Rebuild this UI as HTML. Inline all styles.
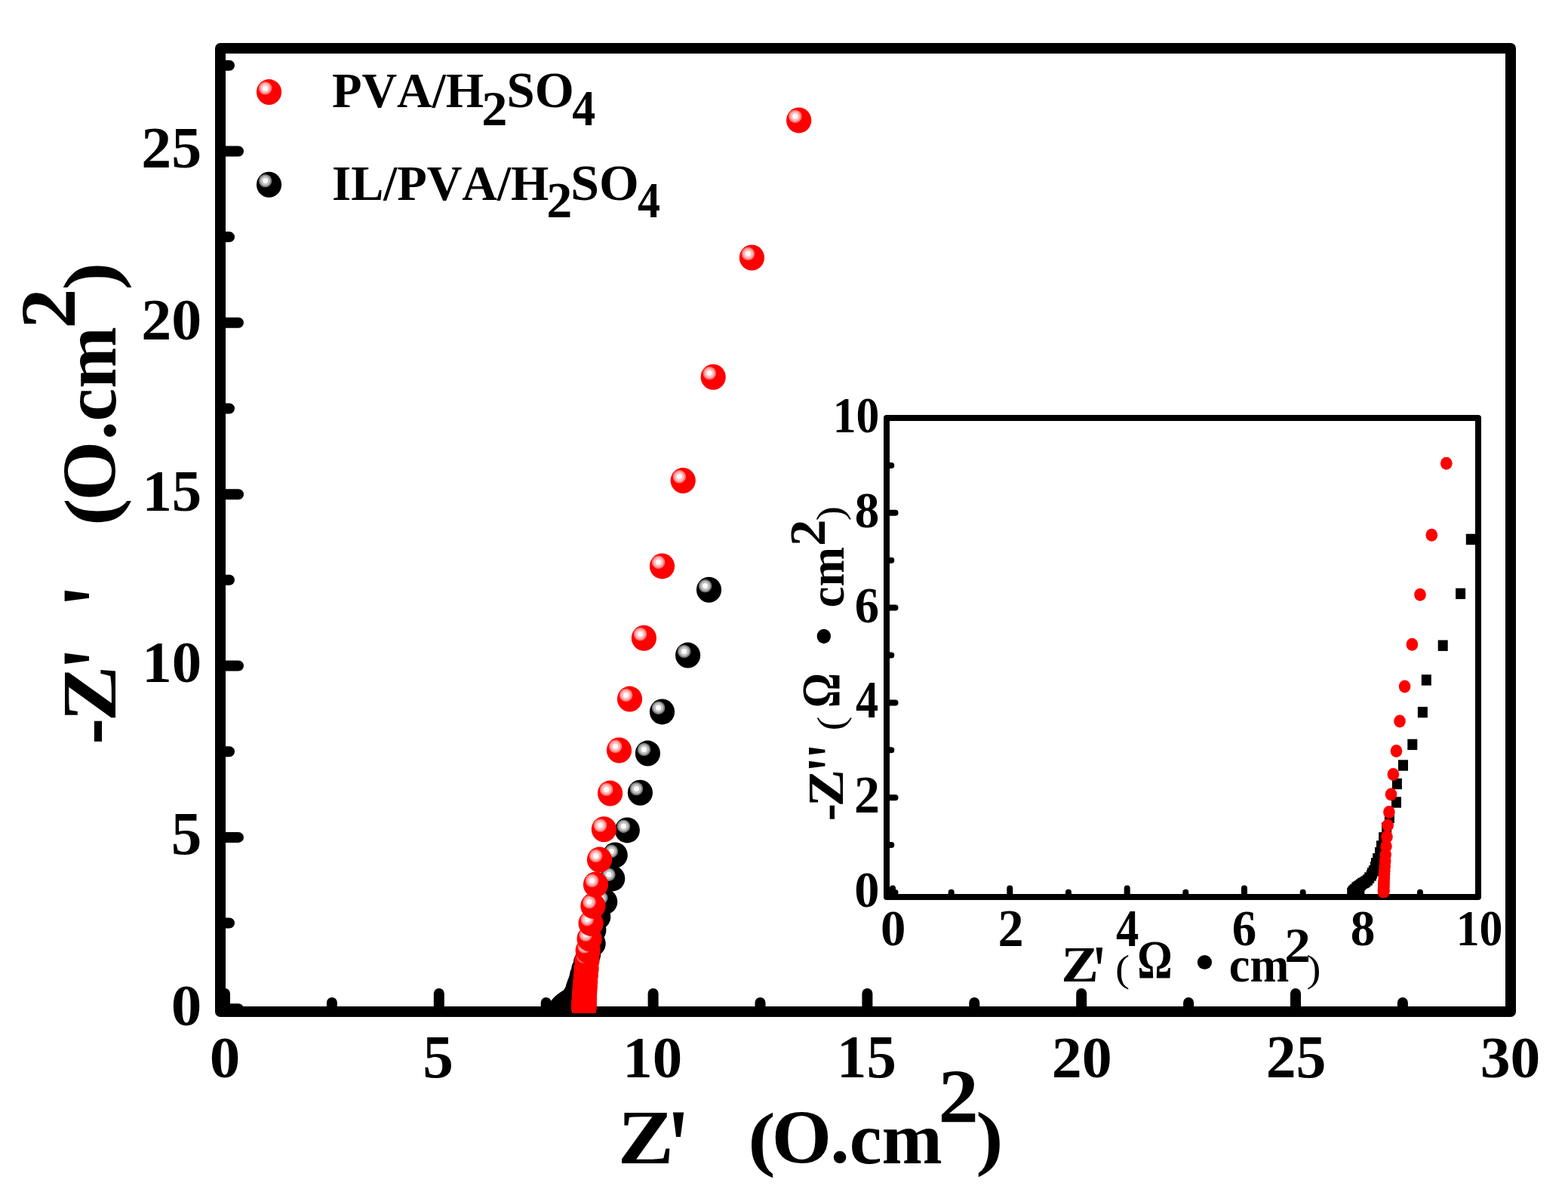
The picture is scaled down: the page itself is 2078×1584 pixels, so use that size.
<!DOCTYPE html>
<html lang="en"><head><meta charset="utf-8"><title>Nyquist plot</title>
<style>html,body{margin:0;padding:0;background:#fff;}body{width:2078px;height:1584px;overflow:hidden;}svg{display:block;}text{font-family:"Liberation Serif",serif;font-weight:bold;fill:#000;font-kerning:none;font-variant-ligatures:none;white-space:pre;}</style></head><body>
<svg width="2078" height="1584" viewBox="0 0 2078 1584">
<rect x="0" y="0" width="2078" height="1584" fill="#fff"/>
<g id="main-axes" stroke="#000" stroke-width="14" fill="none" stroke-linecap="round" stroke-linejoin="round">
<rect x="292" y="64" width="1710" height="1277"/>
<path d="M298.0 1341V1317M439.9 1341V1329M581.8 1341V1317M723.7 1341V1329M865.6 1341V1317M1007.5 1341V1329M1149.4 1341V1317M1291.3 1341V1329M1433.2 1341V1317M1575.1 1341V1329M1717.0 1341V1317M1858.9 1341V1329M292 1337.2H316M292 1223.5H304M292 1109.9H316M292 996.2H304M292 882.5H316M292 768.8H304M292 655.2H316M292 541.5H304M292 427.8H316M292 314.1H304M292 200.5H316M292 86.8H304"/>
</g>
<defs><clipPath id="cm"><rect x="285" y="57" width="1724" height="1286"/></clipPath><clipPath id="ci"><rect x="1171" y="550" width="792" height="640.3"/></clipPath></defs>
<g id="main-data" clip-path="url(#cm)">
<ellipse cx="743.1" cy="1337.9" rx="16.6" ry="17" fill="#000000"/><circle cx="738.2" cy="1332.7" r="8.7" fill="#808080"/><circle cx="738.2" cy="1332.7" r="6.6" fill="#c0c0c0"/><circle cx="738.2" cy="1332.7" r="3.6" fill="#ffffff"/>
<ellipse cx="743.9" cy="1336.7" rx="16.6" ry="17" fill="#000000"/><circle cx="739.0" cy="1331.5" r="8.7" fill="#808080"/><circle cx="739.0" cy="1331.5" r="6.6" fill="#c0c0c0"/><circle cx="739.0" cy="1331.5" r="3.6" fill="#ffffff"/>
<ellipse cx="744.6" cy="1335.7" rx="16.6" ry="17" fill="#000000"/><circle cx="739.7" cy="1330.5" r="8.7" fill="#808080"/><circle cx="739.7" cy="1330.5" r="6.6" fill="#c0c0c0"/><circle cx="739.7" cy="1330.5" r="3.6" fill="#ffffff"/>
<ellipse cx="745.3" cy="1335.4" rx="16.6" ry="17" fill="#000000"/><circle cx="740.4" cy="1330.2" r="8.7" fill="#808080"/><circle cx="740.4" cy="1330.2" r="6.6" fill="#c0c0c0"/><circle cx="740.4" cy="1330.2" r="3.6" fill="#ffffff"/>
<ellipse cx="746.1" cy="1334.3" rx="16.6" ry="17" fill="#000000"/><circle cx="741.2" cy="1329.1" r="8.7" fill="#808080"/><circle cx="741.2" cy="1329.1" r="6.6" fill="#c0c0c0"/><circle cx="741.2" cy="1329.1" r="3.6" fill="#ffffff"/>
<ellipse cx="747.6" cy="1332.6" rx="16.6" ry="17" fill="#000000"/><circle cx="742.7" cy="1327.4" r="8.7" fill="#808080"/><circle cx="742.7" cy="1327.4" r="6.6" fill="#c0c0c0"/><circle cx="742.7" cy="1327.4" r="3.6" fill="#ffffff"/>
<ellipse cx="749.0" cy="1331.7" rx="16.6" ry="17" fill="#000000"/><circle cx="744.1" cy="1326.5" r="8.7" fill="#808080"/><circle cx="744.1" cy="1326.5" r="6.6" fill="#c0c0c0"/><circle cx="744.1" cy="1326.5" r="3.6" fill="#ffffff"/>
<ellipse cx="750.5" cy="1330.7" rx="16.6" ry="17" fill="#000000"/><circle cx="745.6" cy="1325.5" r="8.7" fill="#808080"/><circle cx="745.6" cy="1325.5" r="6.6" fill="#c0c0c0"/><circle cx="745.6" cy="1325.5" r="3.6" fill="#ffffff"/>
<ellipse cx="751.8" cy="1329.7" rx="16.6" ry="17" fill="#000000"/><circle cx="746.9" cy="1324.5" r="8.7" fill="#808080"/><circle cx="746.9" cy="1324.5" r="6.6" fill="#c0c0c0"/><circle cx="746.9" cy="1324.5" r="3.6" fill="#ffffff"/>
<ellipse cx="753.3" cy="1328.6" rx="16.6" ry="17" fill="#000000"/><circle cx="748.4" cy="1323.4" r="8.7" fill="#808080"/><circle cx="748.4" cy="1323.4" r="6.6" fill="#c0c0c0"/><circle cx="748.4" cy="1323.4" r="3.6" fill="#ffffff"/>
<ellipse cx="755.0" cy="1327.8" rx="16.6" ry="17" fill="#000000"/><circle cx="750.1" cy="1322.6" r="8.7" fill="#808080"/><circle cx="750.1" cy="1322.6" r="6.6" fill="#c0c0c0"/><circle cx="750.1" cy="1322.6" r="3.6" fill="#ffffff"/>
<ellipse cx="756.4" cy="1326.7" rx="16.6" ry="17" fill="#000000"/><circle cx="751.5" cy="1321.5" r="8.7" fill="#808080"/><circle cx="751.5" cy="1321.5" r="6.6" fill="#c0c0c0"/><circle cx="751.5" cy="1321.5" r="3.6" fill="#ffffff"/>
<ellipse cx="758.3" cy="1325.3" rx="16.6" ry="17" fill="#000000"/><circle cx="753.4" cy="1320.1" r="8.7" fill="#808080"/><circle cx="753.4" cy="1320.1" r="6.6" fill="#c0c0c0"/><circle cx="753.4" cy="1320.1" r="3.6" fill="#ffffff"/>
<ellipse cx="760.0" cy="1323.1" rx="16.6" ry="17" fill="#000000"/><circle cx="755.1" cy="1317.9" r="8.7" fill="#808080"/><circle cx="755.1" cy="1317.9" r="6.6" fill="#c0c0c0"/><circle cx="755.1" cy="1317.9" r="3.6" fill="#ffffff"/>
<ellipse cx="761.9" cy="1320.9" rx="16.6" ry="17" fill="#000000"/><circle cx="757.0" cy="1315.7" r="8.7" fill="#808080"/><circle cx="757.0" cy="1315.7" r="6.6" fill="#c0c0c0"/><circle cx="757.0" cy="1315.7" r="3.6" fill="#ffffff"/>
<ellipse cx="762.7" cy="1318.7" rx="16.6" ry="17" fill="#000000"/><circle cx="757.8" cy="1313.5" r="8.7" fill="#808080"/><circle cx="757.8" cy="1313.5" r="6.6" fill="#c0c0c0"/><circle cx="757.8" cy="1313.5" r="3.6" fill="#ffffff"/>
<ellipse cx="764.2" cy="1316.5" rx="16.6" ry="17" fill="#000000"/><circle cx="759.3" cy="1311.3" r="8.7" fill="#808080"/><circle cx="759.3" cy="1311.3" r="6.6" fill="#c0c0c0"/><circle cx="759.3" cy="1311.3" r="3.6" fill="#ffffff"/>
<ellipse cx="765.7" cy="1312.8" rx="16.6" ry="17" fill="#000000"/><circle cx="760.8" cy="1307.6" r="8.7" fill="#808080"/><circle cx="760.8" cy="1307.6" r="6.6" fill="#c0c0c0"/><circle cx="760.8" cy="1307.6" r="3.6" fill="#ffffff"/>
<ellipse cx="766.4" cy="1309.2" rx="16.6" ry="17" fill="#000000"/><circle cx="761.5" cy="1304.0" r="8.7" fill="#808080"/><circle cx="761.5" cy="1304.0" r="6.6" fill="#c0c0c0"/><circle cx="761.5" cy="1304.0" r="3.6" fill="#ffffff"/>
<ellipse cx="768.0" cy="1304.8" rx="16.6" ry="17" fill="#000000"/><circle cx="763.1" cy="1299.6" r="8.7" fill="#808080"/><circle cx="763.1" cy="1299.6" r="6.6" fill="#c0c0c0"/><circle cx="763.1" cy="1299.6" r="3.6" fill="#ffffff"/>
<ellipse cx="770.1" cy="1299.1" rx="16.6" ry="17" fill="#000000"/><circle cx="765.2" cy="1293.9" r="8.7" fill="#808080"/><circle cx="765.2" cy="1293.9" r="6.6" fill="#c0c0c0"/><circle cx="765.2" cy="1293.9" r="3.6" fill="#ffffff"/>
<ellipse cx="771.5" cy="1292.7" rx="16.6" ry="17" fill="#000000"/><circle cx="766.6" cy="1287.5" r="8.7" fill="#808080"/><circle cx="766.6" cy="1287.5" r="6.6" fill="#c0c0c0"/><circle cx="766.6" cy="1287.5" r="3.6" fill="#ffffff"/>
<ellipse cx="773.8" cy="1284.7" rx="16.6" ry="17" fill="#000000"/><circle cx="768.9" cy="1279.5" r="8.7" fill="#808080"/><circle cx="768.9" cy="1279.5" r="6.6" fill="#c0c0c0"/><circle cx="768.9" cy="1279.5" r="3.6" fill="#ffffff"/>
<ellipse cx="776.7" cy="1275.2" rx="16.6" ry="17" fill="#000000"/><circle cx="771.8" cy="1270.0" r="8.7" fill="#808080"/><circle cx="771.8" cy="1270.0" r="6.6" fill="#c0c0c0"/><circle cx="771.8" cy="1270.0" r="3.6" fill="#ffffff"/>
<ellipse cx="779.5" cy="1265.5" rx="16.6" ry="17" fill="#000000"/><circle cx="774.6" cy="1260.3" r="8.7" fill="#808080"/><circle cx="774.6" cy="1260.3" r="6.6" fill="#c0c0c0"/><circle cx="774.6" cy="1260.3" r="3.6" fill="#ffffff"/>
<ellipse cx="786.1" cy="1250.8" rx="16.6" ry="17" fill="#000000"/><circle cx="781.2" cy="1245.5" r="8.7" fill="#808080"/><circle cx="781.2" cy="1245.5" r="6.6" fill="#c0c0c0"/><circle cx="781.2" cy="1245.5" r="3.6" fill="#ffffff"/>
<ellipse cx="786.8" cy="1233.1" rx="16.6" ry="17" fill="#000000"/><circle cx="781.9" cy="1227.9" r="8.7" fill="#808080"/><circle cx="781.9" cy="1227.9" r="6.6" fill="#c0c0c0"/><circle cx="781.9" cy="1227.9" r="3.6" fill="#ffffff"/>
<ellipse cx="792.7" cy="1215.3" rx="16.6" ry="17" fill="#000000"/><circle cx="787.8" cy="1210.1" r="8.7" fill="#808080"/><circle cx="787.8" cy="1210.1" r="6.6" fill="#c0c0c0"/><circle cx="787.8" cy="1210.1" r="3.6" fill="#ffffff"/>
<ellipse cx="801.7" cy="1195.3" rx="16.6" ry="17" fill="#000000"/><circle cx="796.8" cy="1190.1" r="8.7" fill="#808080"/><circle cx="796.8" cy="1190.1" r="6.6" fill="#c0c0c0"/><circle cx="796.8" cy="1190.1" r="3.6" fill="#ffffff"/>
<ellipse cx="811.7" cy="1164.4" rx="16.6" ry="17" fill="#000000"/><circle cx="806.8" cy="1159.2" r="8.7" fill="#808080"/><circle cx="806.8" cy="1159.2" r="6.6" fill="#c0c0c0"/><circle cx="806.8" cy="1159.2" r="3.6" fill="#ffffff"/>
<ellipse cx="815.2" cy="1133.5" rx="16.6" ry="17" fill="#000000"/><circle cx="810.3" cy="1128.3" r="8.7" fill="#808080"/><circle cx="810.3" cy="1128.3" r="6.6" fill="#c0c0c0"/><circle cx="810.3" cy="1128.3" r="3.6" fill="#ffffff"/>
<ellipse cx="831.3" cy="1100.4" rx="16.6" ry="17" fill="#000000"/><circle cx="826.4" cy="1095.2" r="8.7" fill="#808080"/><circle cx="826.4" cy="1095.2" r="6.6" fill="#c0c0c0"/><circle cx="826.4" cy="1095.2" r="3.6" fill="#ffffff"/>
<ellipse cx="848.4" cy="1050.7" rx="16.6" ry="17" fill="#000000"/><circle cx="843.5" cy="1045.5" r="8.7" fill="#808080"/><circle cx="843.5" cy="1045.5" r="6.6" fill="#c0c0c0"/><circle cx="843.5" cy="1045.5" r="3.6" fill="#ffffff"/>
<ellipse cx="858.4" cy="998.6" rx="16.6" ry="17" fill="#000000"/><circle cx="853.5" cy="993.4" r="8.7" fill="#808080"/><circle cx="853.5" cy="993.4" r="6.6" fill="#c0c0c0"/><circle cx="853.5" cy="993.4" r="3.6" fill="#ffffff"/>
<ellipse cx="877.5" cy="943.4" rx="16.6" ry="17" fill="#000000"/><circle cx="872.6" cy="938.2" r="8.7" fill="#808080"/><circle cx="872.6" cy="938.2" r="6.6" fill="#c0c0c0"/><circle cx="872.6" cy="938.2" r="3.6" fill="#ffffff"/>
<ellipse cx="911.6" cy="868.6" rx="16.6" ry="17" fill="#000000"/><circle cx="906.7" cy="863.4" r="8.7" fill="#808080"/><circle cx="906.7" cy="863.4" r="6.6" fill="#c0c0c0"/><circle cx="906.7" cy="863.4" r="3.6" fill="#ffffff"/>
<ellipse cx="939.5" cy="781.8" rx="16.6" ry="17" fill="#000000"/><circle cx="934.6" cy="776.6" r="8.7" fill="#808080"/><circle cx="934.6" cy="776.6" r="6.6" fill="#c0c0c0"/><circle cx="934.6" cy="776.6" r="3.6" fill="#ffffff"/>
<ellipse cx="773.8" cy="1336.7" rx="16.6" ry="17" fill="#ff0000"/><circle cx="768.9" cy="1331.5" r="8.7" fill="#ff7a7a"/><circle cx="768.9" cy="1331.5" r="6.6" fill="#ffbcbc"/><circle cx="768.9" cy="1331.5" r="3.6" fill="#fffafa"/>
<ellipse cx="773.8" cy="1336.3" rx="16.6" ry="17" fill="#ff0000"/><circle cx="768.9" cy="1331.1" r="8.7" fill="#ff7a7a"/><circle cx="768.9" cy="1331.1" r="6.6" fill="#ffbcbc"/><circle cx="768.9" cy="1331.1" r="3.6" fill="#fffafa"/>
<ellipse cx="773.8" cy="1335.8" rx="16.6" ry="17" fill="#ff0000"/><circle cx="768.9" cy="1330.6" r="8.7" fill="#ff7a7a"/><circle cx="768.9" cy="1330.6" r="6.6" fill="#ffbcbc"/><circle cx="768.9" cy="1330.6" r="3.6" fill="#fffafa"/>
<ellipse cx="773.8" cy="1335.4" rx="16.6" ry="17" fill="#ff0000"/><circle cx="768.9" cy="1330.2" r="8.7" fill="#ff7a7a"/><circle cx="768.9" cy="1330.2" r="6.6" fill="#ffbcbc"/><circle cx="768.9" cy="1330.2" r="3.6" fill="#fffafa"/>
<ellipse cx="773.8" cy="1334.8" rx="16.6" ry="17" fill="#ff0000"/><circle cx="768.9" cy="1329.6" r="8.7" fill="#ff7a7a"/><circle cx="768.9" cy="1329.6" r="6.6" fill="#ffbcbc"/><circle cx="768.9" cy="1329.6" r="3.6" fill="#fffafa"/>
<ellipse cx="773.8" cy="1334.2" rx="16.6" ry="17" fill="#ff0000"/><circle cx="768.9" cy="1329.0" r="8.7" fill="#ff7a7a"/><circle cx="768.9" cy="1329.0" r="6.6" fill="#ffbcbc"/><circle cx="768.9" cy="1329.0" r="3.6" fill="#fffafa"/>
<ellipse cx="773.8" cy="1333.5" rx="16.6" ry="17" fill="#ff0000"/><circle cx="768.9" cy="1328.3" r="8.7" fill="#ff7a7a"/><circle cx="768.9" cy="1328.3" r="6.6" fill="#ffbcbc"/><circle cx="768.9" cy="1328.3" r="3.6" fill="#fffafa"/>
<ellipse cx="773.9" cy="1332.7" rx="16.6" ry="17" fill="#ff0000"/><circle cx="769.0" cy="1327.5" r="8.7" fill="#ff7a7a"/><circle cx="769.0" cy="1327.5" r="6.6" fill="#ffbcbc"/><circle cx="769.0" cy="1327.5" r="3.6" fill="#fffafa"/>
<ellipse cx="773.9" cy="1331.6" rx="16.6" ry="17" fill="#ff0000"/><circle cx="769.0" cy="1326.4" r="8.7" fill="#ff7a7a"/><circle cx="769.0" cy="1326.4" r="6.6" fill="#ffbcbc"/><circle cx="769.0" cy="1326.4" r="3.6" fill="#fffafa"/>
<ellipse cx="773.9" cy="1330.5" rx="16.6" ry="17" fill="#ff0000"/><circle cx="769.0" cy="1325.3" r="8.7" fill="#ff7a7a"/><circle cx="769.0" cy="1325.3" r="6.6" fill="#ffbcbc"/><circle cx="769.0" cy="1325.3" r="3.6" fill="#fffafa"/>
<ellipse cx="774.0" cy="1329.1" rx="16.6" ry="17" fill="#ff0000"/><circle cx="769.1" cy="1323.9" r="8.7" fill="#ff7a7a"/><circle cx="769.1" cy="1323.9" r="6.6" fill="#ffbcbc"/><circle cx="769.1" cy="1323.9" r="3.6" fill="#fffafa"/>
<ellipse cx="774.0" cy="1327.4" rx="16.6" ry="17" fill="#ff0000"/><circle cx="769.1" cy="1322.2" r="8.7" fill="#ff7a7a"/><circle cx="769.1" cy="1322.2" r="6.6" fill="#ffbcbc"/><circle cx="769.1" cy="1322.2" r="3.6" fill="#fffafa"/>
<ellipse cx="774.2" cy="1325.3" rx="16.6" ry="17" fill="#ff0000"/><circle cx="769.3" cy="1320.1" r="8.7" fill="#ff7a7a"/><circle cx="769.3" cy="1320.1" r="6.6" fill="#ffbcbc"/><circle cx="769.3" cy="1320.1" r="3.6" fill="#fffafa"/>
<ellipse cx="774.3" cy="1322.9" rx="16.6" ry="17" fill="#ff0000"/><circle cx="769.4" cy="1317.7" r="8.7" fill="#ff7a7a"/><circle cx="769.4" cy="1317.7" r="6.6" fill="#ffbcbc"/><circle cx="769.4" cy="1317.7" r="3.6" fill="#fffafa"/>
<ellipse cx="774.4" cy="1319.9" rx="16.6" ry="17" fill="#ff0000"/><circle cx="769.5" cy="1314.7" r="8.7" fill="#ff7a7a"/><circle cx="769.5" cy="1314.7" r="6.6" fill="#ffbcbc"/><circle cx="769.5" cy="1314.7" r="3.6" fill="#fffafa"/>
<ellipse cx="774.7" cy="1316.4" rx="16.6" ry="17" fill="#ff0000"/><circle cx="769.8" cy="1311.2" r="8.7" fill="#ff7a7a"/><circle cx="769.8" cy="1311.2" r="6.6" fill="#ffbcbc"/><circle cx="769.8" cy="1311.2" r="3.6" fill="#fffafa"/>
<ellipse cx="774.9" cy="1312.1" rx="16.6" ry="17" fill="#ff0000"/><circle cx="770.0" cy="1306.9" r="8.7" fill="#ff7a7a"/><circle cx="770.0" cy="1306.9" r="6.6" fill="#ffbcbc"/><circle cx="770.0" cy="1306.9" r="3.6" fill="#fffafa"/>
<ellipse cx="775.3" cy="1306.9" rx="16.6" ry="17" fill="#ff0000"/><circle cx="770.4" cy="1301.7" r="8.7" fill="#ff7a7a"/><circle cx="770.4" cy="1301.7" r="6.6" fill="#ffbcbc"/><circle cx="770.4" cy="1301.7" r="3.6" fill="#fffafa"/>
<ellipse cx="775.7" cy="1300.8" rx="16.6" ry="17" fill="#ff0000"/><circle cx="770.8" cy="1295.6" r="8.7" fill="#ff7a7a"/><circle cx="770.8" cy="1295.6" r="6.6" fill="#ffbcbc"/><circle cx="770.8" cy="1295.6" r="3.6" fill="#fffafa"/>
<ellipse cx="776.3" cy="1293.1" rx="16.6" ry="17" fill="#ff0000"/><circle cx="771.4" cy="1287.9" r="8.7" fill="#ff7a7a"/><circle cx="771.4" cy="1287.9" r="6.6" fill="#ffbcbc"/><circle cx="771.4" cy="1287.9" r="3.6" fill="#fffafa"/>
<ellipse cx="777.1" cy="1284.1" rx="16.6" ry="17" fill="#ff0000"/><circle cx="772.2" cy="1278.9" r="8.7" fill="#ff7a7a"/><circle cx="772.2" cy="1278.9" r="6.6" fill="#ffbcbc"/><circle cx="772.2" cy="1278.9" r="3.6" fill="#fffafa"/>
<ellipse cx="778.0" cy="1273.0" rx="16.6" ry="17" fill="#ff0000"/><circle cx="773.1" cy="1267.8" r="8.7" fill="#ff7a7a"/><circle cx="773.1" cy="1267.8" r="6.6" fill="#ffbcbc"/><circle cx="773.1" cy="1267.8" r="3.6" fill="#fffafa"/>
<ellipse cx="779.2" cy="1260.1" rx="16.6" ry="17" fill="#ff0000"/><circle cx="774.3" cy="1254.9" r="8.7" fill="#ff7a7a"/><circle cx="774.3" cy="1254.9" r="6.6" fill="#ffbcbc"/><circle cx="774.3" cy="1254.9" r="3.6" fill="#fffafa"/>
<ellipse cx="781.1" cy="1244.2" rx="16.6" ry="17" fill="#ff0000"/><circle cx="776.2" cy="1239.0" r="8.7" fill="#ff7a7a"/><circle cx="776.2" cy="1239.0" r="6.6" fill="#ffbcbc"/><circle cx="776.2" cy="1239.0" r="3.6" fill="#fffafa"/>
<ellipse cx="783.1" cy="1223.9" rx="16.6" ry="17" fill="#ff0000"/><circle cx="778.2" cy="1218.7" r="8.7" fill="#ff7a7a"/><circle cx="778.2" cy="1218.7" r="6.6" fill="#ffbcbc"/><circle cx="778.2" cy="1218.7" r="3.6" fill="#fffafa"/>
<ellipse cx="785.9" cy="1200.8" rx="16.6" ry="17" fill="#ff0000"/><circle cx="781.0" cy="1195.6" r="8.7" fill="#ff7a7a"/><circle cx="781.0" cy="1195.6" r="6.6" fill="#ffbcbc"/><circle cx="781.0" cy="1195.6" r="3.6" fill="#fffafa"/>
<ellipse cx="789.5" cy="1172.5" rx="16.6" ry="17" fill="#ff0000"/><circle cx="784.6" cy="1167.3" r="8.7" fill="#ff7a7a"/><circle cx="784.6" cy="1167.3" r="6.6" fill="#ffbcbc"/><circle cx="784.6" cy="1167.3" r="3.6" fill="#fffafa"/>
<ellipse cx="794.5" cy="1139.6" rx="16.6" ry="17" fill="#ff0000"/><circle cx="789.6" cy="1134.4" r="8.7" fill="#ff7a7a"/><circle cx="789.6" cy="1134.4" r="6.6" fill="#ffbcbc"/><circle cx="789.6" cy="1134.4" r="3.6" fill="#fffafa"/>
<ellipse cx="800.4" cy="1099.2" rx="16.6" ry="17" fill="#ff0000"/><circle cx="795.5" cy="1094.0" r="8.7" fill="#ff7a7a"/><circle cx="795.5" cy="1094.0" r="6.6" fill="#ffbcbc"/><circle cx="795.5" cy="1094.0" r="3.6" fill="#fffafa"/>
<ellipse cx="808.6" cy="1051.6" rx="16.6" ry="17" fill="#ff0000"/><circle cx="803.7" cy="1046.4" r="8.7" fill="#ff7a7a"/><circle cx="803.7" cy="1046.4" r="6.6" fill="#ffbcbc"/><circle cx="803.7" cy="1046.4" r="3.6" fill="#fffafa"/>
<ellipse cx="820.5" cy="994.5" rx="16.6" ry="17" fill="#ff0000"/><circle cx="815.6" cy="989.3" r="8.7" fill="#ff7a7a"/><circle cx="815.6" cy="989.3" r="6.6" fill="#ffbcbc"/><circle cx="815.6" cy="989.3" r="3.6" fill="#fffafa"/>
<ellipse cx="834.5" cy="926.6" rx="16.6" ry="17" fill="#ff0000"/><circle cx="829.6" cy="921.4" r="8.7" fill="#ff7a7a"/><circle cx="829.6" cy="921.4" r="6.6" fill="#ffbcbc"/><circle cx="829.6" cy="921.4" r="3.6" fill="#fffafa"/>
<ellipse cx="853.4" cy="845.7" rx="16.6" ry="17" fill="#ff0000"/><circle cx="848.5" cy="840.5" r="8.7" fill="#ff7a7a"/><circle cx="848.5" cy="840.5" r="6.6" fill="#ffbcbc"/><circle cx="848.5" cy="840.5" r="3.6" fill="#fffafa"/>
<ellipse cx="877.5" cy="750.4" rx="16.6" ry="17" fill="#ff0000"/><circle cx="872.6" cy="745.2" r="8.7" fill="#ff7a7a"/><circle cx="872.6" cy="745.2" r="6.6" fill="#ffbcbc"/><circle cx="872.6" cy="745.2" r="3.6" fill="#fffafa"/>
<ellipse cx="905.2" cy="637.0" rx="16.6" ry="17" fill="#ff0000"/><circle cx="900.3" cy="631.8" r="8.7" fill="#ff7a7a"/><circle cx="900.3" cy="631.8" r="6.6" fill="#ffbcbc"/><circle cx="900.3" cy="631.8" r="3.6" fill="#fffafa"/>
<ellipse cx="945.2" cy="499.8" rx="16.6" ry="17" fill="#ff0000"/><circle cx="940.3" cy="494.6" r="8.7" fill="#ff7a7a"/><circle cx="940.3" cy="494.6" r="6.6" fill="#ffbcbc"/><circle cx="940.3" cy="494.6" r="3.6" fill="#fffafa"/>
<ellipse cx="996.4" cy="341.5" rx="16.6" ry="17" fill="#ff0000"/><circle cx="991.5" cy="336.3" r="8.7" fill="#ff7a7a"/><circle cx="991.5" cy="336.3" r="6.6" fill="#ffbcbc"/><circle cx="991.5" cy="336.3" r="3.6" fill="#fffafa"/>
<ellipse cx="1058.7" cy="159.4" rx="16.6" ry="17" fill="#ff0000"/><circle cx="1053.8" cy="154.2" r="8.7" fill="#ff7a7a"/><circle cx="1053.8" cy="154.2" r="6.6" fill="#ffbcbc"/><circle cx="1053.8" cy="154.2" r="3.6" fill="#fffafa"/>
</g>
<g id="legend-symbols">
<ellipse cx="356.5" cy="122.1" rx="16.6" ry="17" fill="#ff0000"/><circle cx="351.6" cy="116.9" r="8.7" fill="#ff7a7a"/><circle cx="351.6" cy="116.9" r="6.6" fill="#ffbcbc"/><circle cx="351.6" cy="116.9" r="3.6" fill="#fffafa"/>
<ellipse cx="356.5" cy="244.8" rx="16.6" ry="17" fill="#000000"/><circle cx="351.6" cy="239.6" r="8.7" fill="#808080"/><circle cx="351.6" cy="239.6" r="6.6" fill="#c0c0c0"/><circle cx="351.6" cy="239.6" r="3.6" fill="#ffffff"/>
</g>
<g id="inset-axes" stroke="#000" stroke-width="8" fill="none" stroke-linecap="round" stroke-linejoin="round">
<rect x="1175" y="554" width="784" height="635"/>
<path d="M1183.0 1189V1177.5M1260.7 1189V1182.7M1338.3 1189V1177.5M1416.0 1189V1182.7M1493.7 1189V1177.5M1571.3 1189V1182.7M1649.0 1189V1177.5M1726.7 1189V1182.7M1804.4 1189V1177.5M1882.0 1189V1182.7M1175 1183.0H1186.5M1175 1120.1H1181.3M1175 1057.2H1186.5M1175 994.3H1181.3M1175 931.4H1186.5M1175 868.5H1181.3M1175 805.6H1186.5M1175 742.7H1181.3M1175 679.8H1186.5M1175 616.9H1181.3"/>
</g>
<g id="inset-data" clip-path="url(#ci)">
<rect x="1785.2" y="1176.8" width="13" height="14.4" fill="#000"/>
<rect x="1786.2" y="1175.2" width="13" height="14.4" fill="#000"/>
<rect x="1787.2" y="1173.8" width="13" height="14.4" fill="#000"/>
<rect x="1788.2" y="1173.3" width="13" height="14.4" fill="#000"/>
<rect x="1789.2" y="1171.8" width="13" height="14.4" fill="#000"/>
<rect x="1791.3" y="1169.4" width="13" height="14.4" fill="#000"/>
<rect x="1793.2" y="1168.3" width="13" height="14.4" fill="#000"/>
<rect x="1795.3" y="1166.8" width="13" height="14.4" fill="#000"/>
<rect x="1797.1" y="1165.4" width="13" height="14.4" fill="#000"/>
<rect x="1799.1" y="1163.8" width="13" height="14.4" fill="#000"/>
<rect x="1801.4" y="1162.8" width="13" height="14.4" fill="#000"/>
<rect x="1803.3" y="1161.3" width="13" height="14.4" fill="#000"/>
<rect x="1805.9" y="1159.3" width="13" height="14.4" fill="#000"/>
<rect x="1808.2" y="1156.3" width="13" height="14.4" fill="#000"/>
<rect x="1810.9" y="1153.2" width="13" height="14.4" fill="#000"/>
<rect x="1811.9" y="1150.2" width="13" height="14.4" fill="#000"/>
<rect x="1813.9" y="1147.2" width="13" height="14.4" fill="#000"/>
<rect x="1816.0" y="1142.1" width="13" height="14.4" fill="#000"/>
<rect x="1817.0" y="1137.1" width="13" height="14.4" fill="#000"/>
<rect x="1819.2" y="1131.0" width="13" height="14.4" fill="#000"/>
<rect x="1822.0" y="1123.1" width="13" height="14.4" fill="#000"/>
<rect x="1824.0" y="1114.3" width="13" height="14.4" fill="#000"/>
<rect x="1827.1" y="1103.2" width="13" height="14.4" fill="#000"/>
<rect x="1831.1" y="1090.1" width="13" height="14.4" fill="#000"/>
<rect x="1834.9" y="1076.7" width="13" height="14.4" fill="#000"/>
<rect x="1844.0" y="1056.3" width="13" height="14.4" fill="#000"/>
<rect x="1844.9" y="1031.8" width="13" height="14.4" fill="#000"/>
<rect x="1853.0" y="1007.3" width="13" height="14.4" fill="#000"/>
<rect x="1865.3" y="979.7" width="13" height="14.4" fill="#000"/>
<rect x="1878.9" y="936.9" width="13" height="14.4" fill="#000"/>
<rect x="1883.8" y="894.2" width="13" height="14.4" fill="#000"/>
<rect x="1905.7" y="848.5" width="13" height="14.4" fill="#000"/>
<rect x="1929.1" y="779.7" width="13" height="14.4" fill="#000"/>
<rect x="1942.8" y="707.7" width="13" height="14.4" fill="#000"/>
<ellipse cx="1833.6" cy="1182.4" rx="7.8" ry="8.5" fill="#ff0000"/>
<ellipse cx="1833.6" cy="1181.7" rx="7.8" ry="8.5" fill="#ff0000"/>
<ellipse cx="1833.6" cy="1181.1" rx="7.8" ry="8.5" fill="#ff0000"/>
<ellipse cx="1833.6" cy="1180.5" rx="7.8" ry="8.5" fill="#ff0000"/>
<ellipse cx="1833.6" cy="1179.7" rx="7.8" ry="8.5" fill="#ff0000"/>
<ellipse cx="1833.6" cy="1178.8" rx="7.8" ry="8.5" fill="#ff0000"/>
<ellipse cx="1833.6" cy="1177.8" rx="7.8" ry="8.5" fill="#ff0000"/>
<ellipse cx="1833.7" cy="1176.7" rx="7.8" ry="8.5" fill="#ff0000"/>
<ellipse cx="1833.7" cy="1175.3" rx="7.8" ry="8.5" fill="#ff0000"/>
<ellipse cx="1833.8" cy="1173.7" rx="7.8" ry="8.5" fill="#ff0000"/>
<ellipse cx="1833.9" cy="1171.7" rx="7.8" ry="8.5" fill="#ff0000"/>
<ellipse cx="1834.0" cy="1169.4" rx="7.8" ry="8.5" fill="#ff0000"/>
<ellipse cx="1834.1" cy="1166.6" rx="7.8" ry="8.5" fill="#ff0000"/>
<ellipse cx="1834.3" cy="1163.2" rx="7.8" ry="8.5" fill="#ff0000"/>
<ellipse cx="1834.5" cy="1159.1" rx="7.8" ry="8.5" fill="#ff0000"/>
<ellipse cx="1834.8" cy="1154.2" rx="7.8" ry="8.5" fill="#ff0000"/>
<ellipse cx="1835.2" cy="1148.3" rx="7.8" ry="8.5" fill="#ff0000"/>
<ellipse cx="1835.7" cy="1141.2" rx="7.8" ry="8.5" fill="#ff0000"/>
<ellipse cx="1836.2" cy="1132.9" rx="7.8" ry="8.5" fill="#ff0000"/>
<ellipse cx="1837.0" cy="1121.8" rx="7.8" ry="8.5" fill="#ff0000"/>
<ellipse cx="1838.0" cy="1109.2" rx="7.8" ry="8.5" fill="#ff0000"/>
<ellipse cx="1839.2" cy="1094.0" rx="7.8" ry="8.5" fill="#ff0000"/>
<ellipse cx="1840.9" cy="1076.4" rx="7.8" ry="8.5" fill="#ff0000"/>
<ellipse cx="1843.5" cy="1053.1" rx="7.8" ry="8.5" fill="#ff0000"/>
<ellipse cx="1846.4" cy="1026.4" rx="7.8" ry="8.5" fill="#ff0000"/>
<ellipse cx="1850.5" cy="995.5" rx="7.8" ry="8.5" fill="#ff0000"/>
<ellipse cx="1855.0" cy="955.9" rx="7.8" ry="8.5" fill="#ff0000"/>
<ellipse cx="1861.6" cy="910.0" rx="7.8" ry="8.5" fill="#ff0000"/>
<ellipse cx="1871.4" cy="854.3" rx="7.8" ry="8.5" fill="#ff0000"/>
<ellipse cx="1882.0" cy="788.2" rx="7.8" ry="8.5" fill="#ff0000"/>
<ellipse cx="1897.3" cy="709.3" rx="7.8" ry="8.5" fill="#ff0000"/>
<ellipse cx="1916.8" cy="614.3" rx="7.8" ry="8.5" fill="#ff0000"/>
</g>
<g id="labels">
<text><tspan x="277.71" y="1428.43" font-size="78.99" textLength="40.58" lengthAdjust="spacingAndGlyphs">0</tspan></text>
<text><tspan x="560.35" y="1428.42" font-size="80.20" textLength="40.63" lengthAdjust="spacingAndGlyphs">5</tspan></text>
<text><tspan x="825.28" y="1428.43" font-size="78.99" textLength="78.93" lengthAdjust="spacingAndGlyphs">10</tspan></text>
<text><tspan x="1109.09" y="1428.42" font-size="79.56" textLength="78.80" lengthAdjust="spacingAndGlyphs">15</tspan></text>
<text><tspan x="1393.84" y="1428.43" font-size="78.99" textLength="80.01" lengthAdjust="spacingAndGlyphs">20</tspan></text>
<text><tspan x="1677.65" y="1428.43" font-size="79.33" textLength="79.88" lengthAdjust="spacingAndGlyphs">25</tspan></text>
<text><tspan x="1961.81" y="1428.43" font-size="78.99" textLength="79.63" lengthAdjust="spacingAndGlyphs">30</tspan></text>
<text><tspan x="226.81" y="1359.13" font-size="78.54" textLength="40.58" lengthAdjust="spacingAndGlyphs">0</tspan></text>
<text><tspan x="226.65" y="1131.77" font-size="79.75" textLength="40.63" lengthAdjust="spacingAndGlyphs">5</tspan></text>
<text><tspan x="188.38" y="904.43" font-size="78.54" textLength="78.93" lengthAdjust="spacingAndGlyphs">10</tspan></text>
<text><tspan x="188.39" y="677.08" font-size="79.11" textLength="78.80" lengthAdjust="spacingAndGlyphs">15</tspan></text>
<text><tspan x="187.34" y="449.73" font-size="78.54" textLength="80.01" lengthAdjust="spacingAndGlyphs">20</tspan></text>
<text><tspan x="187.35" y="222.38" font-size="78.88" textLength="79.88" lengthAdjust="spacingAndGlyphs">25</tspan></text>
<text><tspan x="1167.11" y="1253.14" font-size="67.87" textLength="33.39" lengthAdjust="spacingAndGlyphs">0</tspan></text>
<text><tspan x="1322.49" y="1253.80" font-size="69.17" textLength="34.09" lengthAdjust="spacingAndGlyphs">2</tspan></text>
<text><tspan x="1479.02" y="1253.80" font-size="69.58" textLength="30.25" lengthAdjust="spacingAndGlyphs">4</tspan></text>
<text><tspan x="1632.63" y="1253.13" font-size="68.17" textLength="32.42" lengthAdjust="spacingAndGlyphs">6</tspan></text>
<text><tspan x="1789.68" y="1253.14" font-size="67.87" textLength="32.63" lengthAdjust="spacingAndGlyphs">8</tspan></text>
<text><tspan x="1929.70" y="1253.14" font-size="67.87" textLength="61.80" lengthAdjust="spacingAndGlyphs">10</tspan></text>
<text><tspan x="1132.37" y="1202.13" font-size="68.32" textLength="33.27" lengthAdjust="spacingAndGlyphs">0</tspan></text>
<text><tspan x="1132.05" y="1077.00" font-size="69.63" textLength="33.97" lengthAdjust="spacingAndGlyphs">2</tspan></text>
<text><tspan x="1134.08" y="951.20" font-size="70.04" textLength="30.14" lengthAdjust="spacingAndGlyphs">4</tspan></text>
<text><tspan x="1132.69" y="824.73" font-size="68.61" textLength="32.30" lengthAdjust="spacingAndGlyphs">6</tspan></text>
<text><tspan x="1132.74" y="698.93" font-size="68.32" textLength="32.52" lengthAdjust="spacingAndGlyphs">8</tspan></text>
<text><tspan x="1103.76" y="573.13" font-size="68.32" textLength="61.69" lengthAdjust="spacingAndGlyphs">10</tspan></text>
<text><tspan x="439.89" y="141.60" font-size="66.34" textLength="201.18" lengthAdjust="spacingAndGlyphs">PVA/H</tspan><tspan x="638.33" y="165.50" font-size="66.30" textLength="34.21" lengthAdjust="spacingAndGlyphs">2</tspan><tspan x="671.44" y="141.84" font-size="67.42" textLength="89.23" lengthAdjust="spacingAndGlyphs">SO</tspan><tspan x="758.36" y="165.50" font-size="66.70" textLength="30.89" lengthAdjust="spacingAndGlyphs">4</tspan></text>
<text><tspan x="440.02" y="264.59" font-size="66.49" textLength="287.25" lengthAdjust="spacingAndGlyphs">IL/PVA/H</tspan><tspan x="724.24" y="288.00" font-size="66.61" textLength="34.09" lengthAdjust="spacingAndGlyphs">2</tspan><tspan x="756.29" y="264.84" font-size="67.57" textLength="90.53" lengthAdjust="spacingAndGlyphs">SO</tspan><tspan x="844.98" y="288.00" font-size="67.00" textLength="30.04" lengthAdjust="spacingAndGlyphs">4</tspan></text>
<text><tspan x="818.67" y="1541.90" font-size="102.17" textLength="74.29" lengthAdjust="spacingAndGlyphs">Z</tspan><tspan x="883.25" y="1565.31" font-size="138.38" textLength="31.54" lengthAdjust="spacingAndGlyphs">'</tspan><tspan font-size="10">   </tspan><tspan x="991.31" y="1540.55" font-size="96.06" textLength="36.30" lengthAdjust="spacingAndGlyphs">(</tspan><tspan x="1022.73" y="1541.71" font-size="101.21" textLength="79.25" lengthAdjust="spacingAndGlyphs">O</tspan><tspan x="1100.20" y="1541.30" font-size="98.70" textLength="25.60" lengthAdjust="spacingAndGlyphs">.</tspan><tspan x="1125.71" y="1541.79" font-size="98.24" textLength="123.04" lengthAdjust="spacingAndGlyphs">cm</tspan><tspan x="1243.42" y="1487.80" font-size="102.40" textLength="53.37" lengthAdjust="spacingAndGlyphs">2</tspan><tspan x="1293.39" y="1540.47" font-size="95.95" textLength="36.30" lengthAdjust="spacingAndGlyphs">)</tspan></text>
<text transform="rotate(-90)"><tspan x="-986.83" y="158.03" font-size="118.88" textLength="34.87" lengthAdjust="spacingAndGlyphs">-</tspan><tspan x="-956.53" y="152.80" font-size="101.87" textLength="74.29" lengthAdjust="spacingAndGlyphs">Z</tspan><tspan x="-888.59" y="176.15" font-size="137.53" textLength="31.32" lengthAdjust="spacingAndGlyphs">'</tspan><tspan font-size="10"> </tspan><tspan x="-805.59" y="176.15" font-size="137.53" textLength="31.32" lengthAdjust="spacingAndGlyphs">'</tspan><tspan font-size="10">   </tspan><tspan x="-696.94" y="153.03" font-size="98.04" textLength="36.69" lengthAdjust="spacingAndGlyphs">(</tspan><tspan x="-663.85" y="153.21" font-size="101.66" textLength="78.91" lengthAdjust="spacingAndGlyphs">O</tspan><tspan x="-583.57" y="152.78" font-size="100.55" textLength="25.45" lengthAdjust="spacingAndGlyphs">.</tspan><tspan x="-558.56" y="153.28" font-size="98.86" textLength="125.44" lengthAdjust="spacingAndGlyphs">cm</tspan><tspan x="-435.69" y="99.20" font-size="103.31" textLength="53.49" lengthAdjust="spacingAndGlyphs">2</tspan><tspan x="-384.56" y="153.21" font-size="98.60" textLength="36.82" lengthAdjust="spacingAndGlyphs">)</tspan></text>
<text><tspan x="1406.46" y="1300.90" font-size="67.04" textLength="49.29" lengthAdjust="spacingAndGlyphs">Z</tspan><tspan x="1447.46" y="1316.08" font-size="90.69" textLength="18.75" lengthAdjust="spacingAndGlyphs">'</tspan><tspan font-size="10"> </tspan><tspan x="1478.08" y="1301.33" font-size="49.63" textLength="19.06" lengthAdjust="spacingAndGlyphs" font-weight="normal">(</tspan><tspan font-size="10"> </tspan><tspan x="1507.37" y="1296.00" font-size="71.14" textLength="46.41" lengthAdjust="spacingAndGlyphs">Ω</tspan><tspan font-size="10"> </tspan><tspan x="1584.08" y="1298.93" font-size="70.61" textLength="24.98" lengthAdjust="spacingAndGlyphs">•</tspan><tspan font-size="10"> </tspan><tspan x="1628.77" y="1301.40" font-size="64.73" textLength="79.49" lengthAdjust="spacingAndGlyphs">cm</tspan><tspan x="1702.29" y="1274.90" font-size="66.30" textLength="34.70" lengthAdjust="spacingAndGlyphs">2</tspan><tspan x="1731.46" y="1301.33" font-size="49.63" textLength="19.06" lengthAdjust="spacingAndGlyphs" font-weight="normal">)</tspan></text>
<text transform="rotate(-90)"><tspan x="-1088.34" y="1119.60" font-size="74.15" textLength="23.08" lengthAdjust="spacingAndGlyphs">-</tspan><tspan x="-1069.34" y="1117.10" font-size="67.35" textLength="49.29" lengthAdjust="spacingAndGlyphs">Z</tspan><tspan x="-1023.82" y="1132.10" font-size="90.27" textLength="20.51" lengthAdjust="spacingAndGlyphs">'</tspan><tspan x="-1005.72" y="1132.10" font-size="90.27" textLength="20.51" lengthAdjust="spacingAndGlyphs">'</tspan><tspan font-size="10"> </tspan><tspan x="-968.60" y="1117.54" font-size="50.07" textLength="18.93" lengthAdjust="spacingAndGlyphs" font-weight="normal">(</tspan><tspan font-size="10"> </tspan><tspan x="-937.90" y="1112.20" font-size="71.29" textLength="45.84" lengthAdjust="spacingAndGlyphs">Ω</tspan><tspan font-size="10"> </tspan><tspan x="-855.95" y="1113.79" font-size="68.39" textLength="25.24" lengthAdjust="spacingAndGlyphs">•</tspan><tspan font-size="10"> </tspan><tspan x="-805.46" y="1117.50" font-size="64.94" textLength="80.53" lengthAdjust="spacingAndGlyphs">cm</tspan><tspan x="-724.07" y="1093.20" font-size="66.76" textLength="35.42" lengthAdjust="spacingAndGlyphs">2</tspan><tspan x="-690.37" y="1117.45" font-size="50.51" textLength="19.32" lengthAdjust="spacingAndGlyphs" font-weight="normal">)</tspan></text>
</g>
</svg></body></html>
